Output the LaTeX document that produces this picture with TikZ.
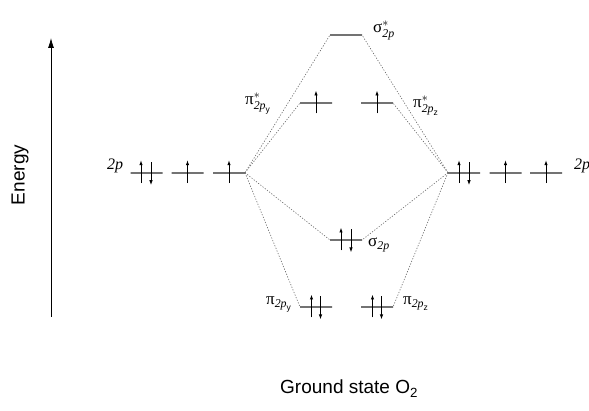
\documentclass[tikz,border=0pt]{standalone}
\usepackage{amsmath}
\usepackage{fontspec}
\setmainfont{Liberation Serif}
\newfontfamily\sansf{Liberation Sans}
\usetikzlibrary{arrows.meta}
\tikzset{
  lvl/.style={draw=black!55, line width=2pt, minimum width=32pt, minimum height=0pt, inner sep=0pt, outer sep=0pt, shape=rectangle},
  corr/.style={draw=black!60, line width=0.6pt, dash pattern=on 1.2pt off 1.6pt},
  elec/.style={line width=0.9pt, -{Latex[length=5pt,width=3.5pt]}},
  lab/.style={anchor=base west, inner sep=0pt, font=\fontsize{16}{18}\selectfont},
  glab/.style={anchor=base west, inner sep=0pt, font=\fontsize{17}{19}\selectfont},
  bigsans/.style={font=\sansf\fontsize{19}{22}\selectfont, inner sep=0pt}
}
\newcommand{\eup}[2]{\draw[elec] (#1,#2+10.5) -- (#1,#2-12.5);}
\newcommand{\edn}[2]{\draw[elec] (#1,#2-10.5) -- (#1,#2+12.5);}
\begin{document}
\begin{tikzpicture}[x=1pt,y=-1pt]
\useasboundingbox (0,0) rectangle (589,411);
% energy axis
\coordinate (ebot) at (51,317);
\coordinate (etop) at (51,38);
\draw[line width=0.8pt, -{Latex[length=10pt,width=6pt]}] (ebot) -- (etop);
\node[bigsans, rotate=90] (energy) at (20,175) {Energy};
% left atomic 2p
\node[lvl] (A1) at (146.5,172.7) {};
\node[lvl] (A2) at (187.5,172.7) {};
\node[lvl] (A3) at (229,172.7) {};
% right atomic 2p
\node[lvl] (B1) at (464,172.7) {};
\node[lvl] (B2) at (505.5,172.7) {};
\node[lvl] (B3) at (546,172.7) {};
% molecular orbitals
\node[lvl] (Ss) at (346,35) {};
\node[lvl] (Pys) at (316,103) {};
\node[lvl] (Pzs) at (377,103) {};
\node[lvl] (S) at (346,240) {};
\node[lvl] (Py) at (316,307) {};
\node[lvl] (Pz) at (377,307) {};
% correlation lines
\draw[corr] (A3.east) -- (Ss.west);
\draw[corr] (A3.east) -- (Pys.west);
\draw[corr] (A3.east) -- (S.west);
\draw[corr] (A3.east) -- (Py.west);
\draw[corr] (B1.west) -- (Ss.east);
\draw[corr] (B1.west) -- (Pzs.east);
\draw[corr] (B1.west) -- (S.east);
\draw[corr] (B1.west) -- (Pz.east);
% electrons
\eup{141}{172.7}\edn{151}{172.7}
\eup{187.5}{172.7}
\eup{229}{172.7}
\eup{459}{172.7}\edn{469}{172.7}
\eup{505.5}{172.7}
\eup{546}{172.7}
\eup{316}{103}
\eup{377}{103}
\eup{341}{240}\edn{351}{240}
\eup{311.5}{307}\edn{320.5}{307}
\eup{372.5}{307}\edn{381.5}{307}
% labels
\node[lab] (lA) at (107,170) {\itshape 2p};
\node[lab] (lB) at (574,170) {\itshape 2p};
\node[glab] (lSs) at (373,33) {$\text{σ}^{*}_{\text{\itshape 2p}}$};
\node[glab] (lPys) at (245,105) {$\text{π}^{*}_{\text{\itshape 2p}_{\text{\sansf y}}}$};
\node[glab] (lPzs) at (413,108) {$\text{π}^{*}_{\text{\itshape 2p}_{\text{\sansf z}}}$};
\node[glab] (lS) at (368,247) {$\text{σ}_{\text{\itshape 2p}}$};
\node[glab] (lPy) at (266,305) {$\text{π}_{\text{\itshape 2p}_{\text{\sansf y}}}$};
\node[glab] (lPz) at (403,305) {$\text{π}_{\text{\itshape 2p}_{\text{\sansf z}}}$};
\node[bigsans, anchor=base west] (title) at (280,394) {Ground state O\textsubscript{2}};
\end{tikzpicture}
\end{document}
